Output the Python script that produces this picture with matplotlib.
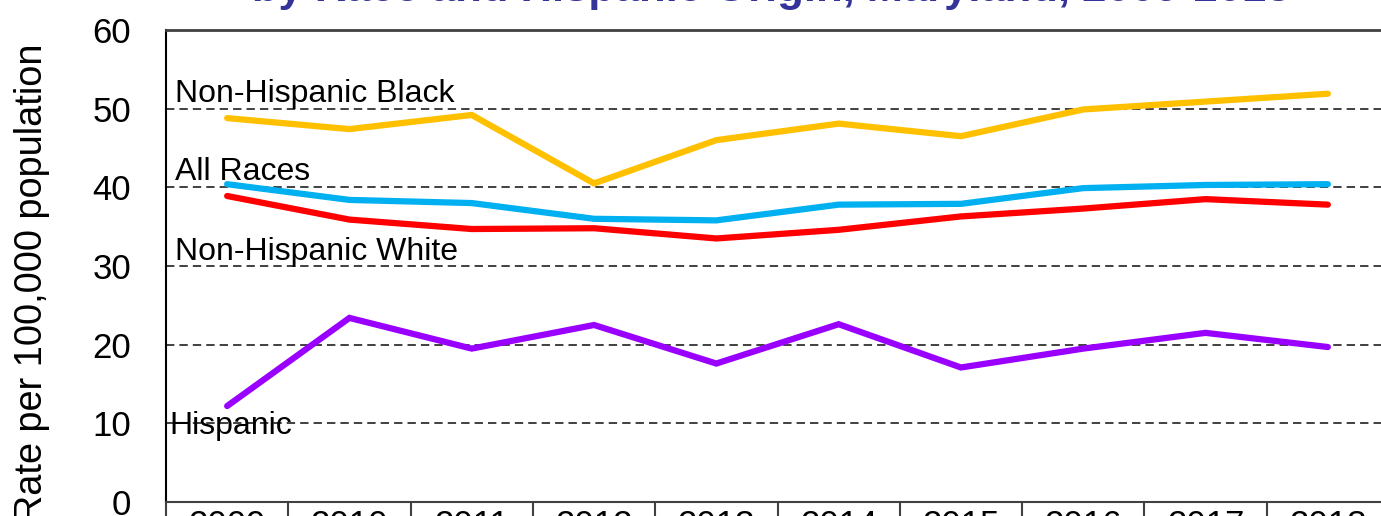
import matplotlib
matplotlib.use("Agg")
import matplotlib.pyplot as plt
import numpy as np

plt.rcParams['font.family'] = ['Liberation Sans', 'DejaVu Sans']

# Data
years = ['2009', '2010', '2011', '2012', '2013', '2014', '2015', '2016', '2017', '2018']
nh_black = [48.8, 47.4, 49.2, 40.5, 46.0, 48.1, 46.5, 49.9, 50.9, 51.9]
all_races = [40.4, 38.4, 38.0, 36.0, 35.8, 37.8, 37.9, 39.9, 40.3, 40.4]
nh_white = [38.9, 35.9, 34.7, 34.8, 33.5, 34.6, 36.3, 37.3, 38.5, 37.8]
hispanic = [12.2, 23.4, 19.5, 22.5, 17.6, 22.6, 17.1, 19.5, 21.5, 19.7]

series = [
    ('Non-Hispanic Black', nh_black, '#FFC000', 50.9),
    ('All Races', all_races, '#00B0F0', 40.9),
    ('Non-Hispanic White', nh_white, '#FF0000', 30.8),
    ('Hispanic', hispanic, '#9900FF', 8.6),
]

W, H = 1381, 516
fig = plt.figure(figsize=(W / 100, H / 100), dpi=100)
ax = fig.add_axes([166 / W, 14 / H, 1223 / W, 472 / H])

x = np.arange(len(years))

for yv in [10, 20, 30, 40, 50]:
    ax.axhline(yv, color='#404040', lw=1.4, linestyle=(0, (4.3, 2.6)), zorder=1)

for name, vals, col, ly in series:
    ax.plot(x, vals, color=col, lw=4.5, solid_capstyle='round',
            solid_joinstyle='miter', zorder=3)
    lx = 0.0074 if name != 'Hispanic' else 0.003
    ax.text(lx, ly, name, transform=ax.get_yaxis_transform(), fontsize=23,
            color='black', ha='left', va='baseline', zorder=4)

ax.set_xlim(-0.5, len(years) - 0.5)
ax.set_ylim(0, 60)
ax.set_yticks(range(0, 61, 10))
ax.tick_params(axis='y', length=0, pad=25, labelsize=25)

ax.set_xticks(x)
ax.set_xticklabels(years)
ax.set_xticks(np.arange(-0.5, len(years)), minor=True)
ax.tick_params(axis='x', which='major', length=0, pad=5, labelsize=25)
ax.tick_params(axis='x', which='minor', length=30, width=1.5, color='#404040', direction='out')

ax.spines['right'].set_visible(False)
ax.spines['top'].set_color('#404040')
ax.spines['top'].set_linewidth(2)
ax.spines['left'].set_color('black')
ax.spines['left'].set_linewidth(1.5)
ax.spines['bottom'].set_color('#404040')
ax.spines['bottom'].set_linewidth(1.5)

fig.text(14 / W, 1 - 283 / H, 'Rate per 100,000 population', rotation=90,
         fontsize=27.3, ha='left', va='center')

fig.text(771 / W, 1 - 1.5 / H, 'by Race and Hispanic Origin, Maryland, 2009-2018',
         fontsize=31.3, fontweight='bold', color='#333399', ha='center', va='baseline')

fig.savefig('out.png', dpi=100)
